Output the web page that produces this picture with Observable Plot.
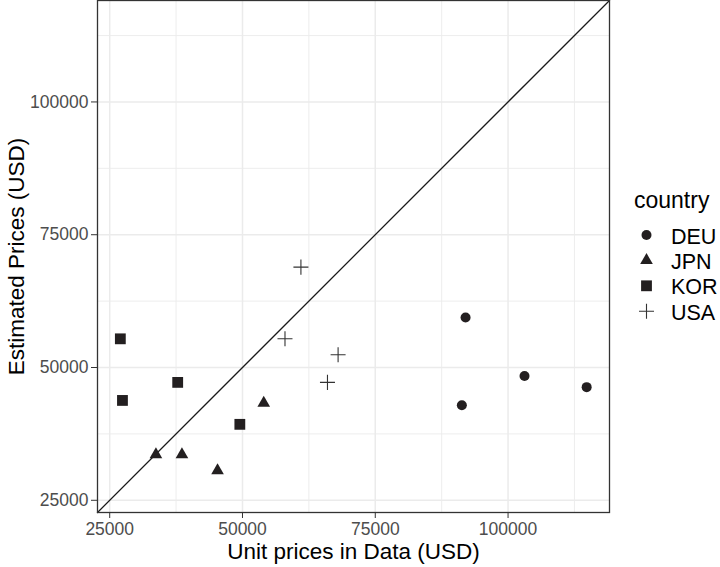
<!DOCTYPE html>
<html><head><meta charset="utf-8">
<script src="https://cdn.jsdelivr.net/npm/d3@7"></script>
<script src="https://cdn.jsdelivr.net/npm/@observablehq/plot@0.6"></script>
<style>
body{margin:0;background:#fff;font-family:"Liberation Sans",Arial,Helvetica,sans-serif;}
#wrap{position:relative;width:720px;height:567px;overflow:hidden;}
#legend{position:absolute;left:610px;top:180px;}
</style></head><body><div id="wrap"></div>
<script>
// ---- data ----
const countries = ["DEU", "JPN", "KOR", "USA"];
const deuData = [92000, 103100, 114800, 91300];
const deuEst  = [59400, 48400, 46300, 42900];
const jpnData = [33700, 38600, 45300, 54000];
const jpnEst  = [33600, 33600, 30600, 43300];
const korData = [27000, 27400, 37800, 49500];
const korEst  = [55400, 43800, 47200, 39300];
const usaData = [61000, 58000, 68000, 66000];
const usaEst  = [68900, 55400, 52400, 47200];
const xTicks = [25000, 50000, 75000, 100000];
const yTicks = [25000, 50000, 75000, 100000];
const minorTicks = [37500, 62500, 87500, 112500];
const axisDomain = [22700, 119100];
const xTitle = "Unit prices in Data (USD)";
const yTitle = "Estimated Prices (USD)";
const legendTitle = "country";

// ---- build table ----
const series = [[deuData, deuEst], [jpnData, jpnEst], [korData, korEst], [usaData, usaEst]];
const rows = [];
countries.forEach((c, i) => series[i][0].forEach((x, j) => rows.push({country: c, x, y: series[i][1][j]})));

// ---- styles ----
const symbolOf = {DEU: "circle", JPN: "triangle", KOR: "square", USA: "plus"};
const rOf = {DEU: 5, JPN: 4.7, KOR: 6.1, USA: 4.9};
const ink = "#231f20";
const gridCol = "#ebebeb";

const dotMarks = countries.map(c => c === "USA"
  ? Plot.dot(rows.filter(d => d.country === c), {x: "x", y: "y", symbol: symbolOf[c], r: rOf[c], stroke: "#333", strokeWidth: 1.1})
  : Plot.dot(rows.filter(d => d.country === c), {x: "x", y: "y", symbol: symbolOf[c], r: rOf[c], fill: ink, stroke: "none"}));

const chart = Plot.plot({
  width: 720, height: 567,
  marginLeft: 97, marginRight: 111, marginTop: 0, marginBottom: 55,
  style: {fontFamily: '"Liberation Sans", Arial, Helvetica, sans-serif', background: "white"},
  x: {domain: axisDomain},
  y: {domain: axisDomain},
  marks: [
    Plot.ruleX(minorTicks, {stroke: gridCol, strokeWidth: 0.9}),
    Plot.ruleY(minorTicks, {stroke: gridCol, strokeWidth: 0.9}),
    Plot.ruleX(xTicks, {stroke: gridCol, strokeWidth: 1.5}),
    Plot.ruleY(yTicks, {stroke: gridCol, strokeWidth: 1.5}),
    Plot.line(axisDomain, {x: d => d, y: d => d, stroke: "#1a1a1a", strokeWidth: 1.3}),
    ...dotMarks,
    Plot.frame({stroke: "#333", strokeWidth: 1.3}),
    Plot.axisX({ticks: xTicks, tickFormat: d => String(d), tickSize: 6, tickPadding: 4, fontSize: 17.5, stroke: "#333", fill: "#4d4d4d", label: null}),
    Plot.axisY({ticks: yTicks, tickFormat: d => String(d), tickSize: 6, tickPadding: 3, fontSize: 17.5, stroke: "#333", fill: "#4d4d4d", label: null}),
    Plot.text([xTitle], {text: d => d, frameAnchor: "bottom", dy: 46, lineAnchor: "bottom", fontSize: 22.5, fill: "black"}),
    Plot.text([yTitle], {text: d => d, frameAnchor: "left", dx: -74, rotate: -90, textAnchor: "middle", lineAnchor: "bottom", fontSize: 22.5, fill: "black"})
  ]
});
const wrap = document.getElementById("wrap");
wrap.appendChild(chart);

// ---- legend ----
const symMap = {circle: d3.symbolCircle, triangle: d3.symbolTriangle, square: d3.symbolSquare, plus: d3.symbolPlus};
const lg = d3.select(wrap).append("svg").attr("id", "legend").attr("width", 110).attr("height", 150)
  .style("font-family", '"Liberation Sans", Arial, Helvetica, sans-serif');
lg.append("text").attr("x", 24).attr("y", 28).attr("font-size", 23).attr("fill", "black").text(legendTitle);
countries.forEach((c, i) => {
  const cy = 55 + i * 25.4;
  const r = rOf[c];
  const p = lg.append("path").attr("transform", `translate(36.5,${cy})`)
    .attr("d", d3.symbol(symMap[symbolOf[c]], Math.PI * r * r)());
  if (c === "USA") p.attr("fill", "none").attr("stroke", "#333").attr("stroke-width", 1.1);
  else p.attr("fill", ink);
  lg.append("text").attr("x", 61).attr("y", cy + 8.5).attr("font-size", 21.5).attr("fill", "black").text(c);
});
</script></body></html>
